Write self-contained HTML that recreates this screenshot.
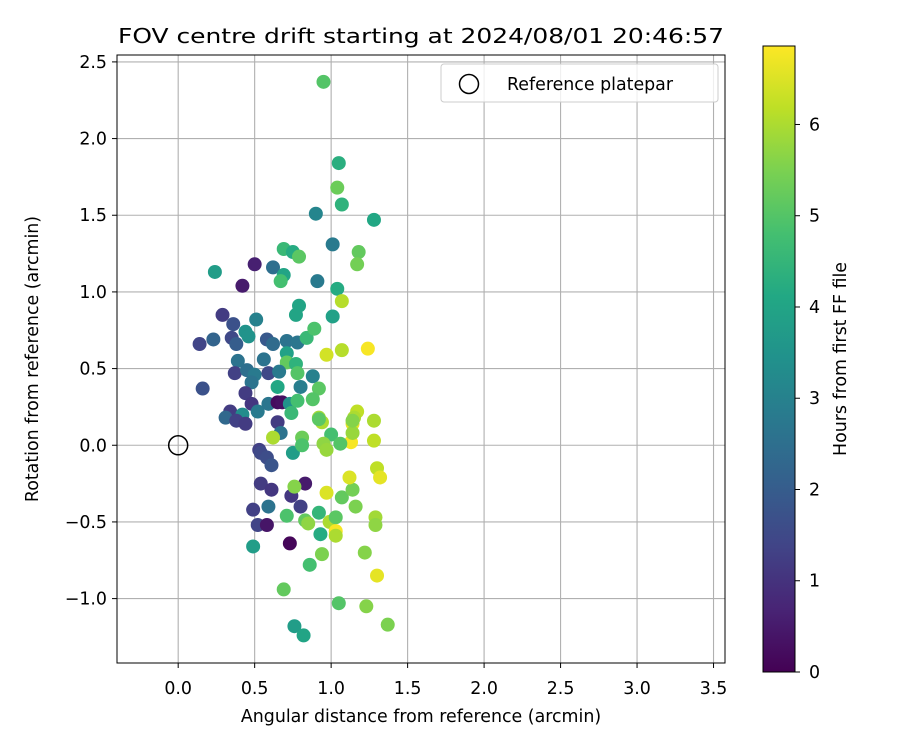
<!DOCTYPE html>
<html><head><meta charset="utf-8"><style>
body{margin:0;background:#fff}
svg text{font-family:"DejaVu Sans","Liberation Sans",sans-serif;fill:#000}
</style></head><body>
<svg id="chart" width="900" height="750" xmlns="http://www.w3.org/2000/svg">
<rect width="900" height="750" fill="#fff"/>
<text x="421" y="43" font-size="20.8" text-anchor="middle" textLength="606" lengthAdjust="spacingAndGlyphs">FOV centre drift starting at 2024/08/01 20:46:57</text>
<g id="grid"></g>
<g id="points"></g>
<g id="axes"></g>
<text x="421" y="722" font-size="17.4" text-anchor="middle">Angular distance from reference (arcmin)</text>
<text transform="translate(38,359) rotate(-90)" font-size="17.4" text-anchor="middle">Rotation from reference (arcmin)</text>
<g>
<rect x="441" y="64" width="277" height="38" rx="3" fill="#fff" fill-opacity="0.8" stroke="#ccc"/>
<circle cx="469" cy="84" r="9.5" fill="none" stroke="#000" stroke-width="1.5"/>
<text x="507" y="90" font-size="17.4">Reference platepar</text>
</g>
<defs><linearGradient id="vir" x1="0" y1="1" x2="0" y2="0">
<stop offset="0" stop-color="#440154"/><stop offset="0.1" stop-color="#482475"/><stop offset="0.2" stop-color="#414487"/><stop offset="0.3" stop-color="#355f8d"/><stop offset="0.4" stop-color="#2a788e"/><stop offset="0.5" stop-color="#21918c"/><stop offset="0.6" stop-color="#22a884"/><stop offset="0.7" stop-color="#44bf70"/><stop offset="0.8" stop-color="#7ad151"/><stop offset="0.9" stop-color="#bddf26"/><stop offset="1" stop-color="#fde725"/>
</linearGradient></defs>
<rect x="763" y="46" width="32" height="626" fill="url(#vir)" stroke="#000" stroke-width="1"/>
<g id="cbar"></g>
<text transform="translate(846,359) rotate(-90)" font-size="17.4" text-anchor="middle">Hours from first FF file</text>
</svg>
<script>
const xs=[0.95,1.05,1.04,1.07,1.28,0.90,1.01,1.18,1.17,0.69,0.75,0.79,0.50,0.62,0.69,0.67,0.91,1.04,0.24,0.42,
1.07,0.79,0.77,1.01,0.29,0.36,0.51,0.44,0.46,0.14,0.23,0.35,0.38,0.58,0.62,0.71,0.78,0.84,0.89,0.71,0.71,0.77,0.97,1.07,1.24,0.39,0.56,0.37,0.45,0.50,0.48,0.59,0.66,0.78,0.88,0.65,0.80,0.92,0.88,0.16,0.44,0.48,0.52,0.59,0.65,0.68,0.73,0.78,0.74,0.34,0.31,0.42,0.38,0.44,0.65,0.67,0.62,0.92,0.94,1.17,1.15,1.14,1.28,0.81,1.00,0.95,1.13,1.28,0.53,
0.52,0.58,0.59,0.49,0.49,0.73,0.54,0.61,0.74,0.83,0.76,0.80,0.71,0.83,0.85,0.92,0.93,0.99,1.03,1.03,1.03,0.94,0.86,0.97,1.07,1.14,1.12,1.16,1.29,1.29,1.22,1.30,1.30,1.32,0.69,1.05,1.23,1.37,0.76,0.82,
0.54,0.58,0.61,0.75,0.81,0.97,1.06,1.14,0.92,1.14];
const ys=[2.37,1.84,1.68,1.57,1.47,1.51,1.31,1.26,1.18,1.28,1.26,1.23,1.18,1.16,1.11,1.07,1.07,1.02,1.13,1.04,
0.94,0.91,0.85,0.84,0.85,0.79,0.82,0.74,0.71,0.66,0.69,0.70,0.66,0.69,0.66,0.68,0.67,0.70,0.76,0.60,0.54,0.53,0.59,0.62,0.63,0.55,0.56,0.47,0.49,0.46,0.41,0.47,0.48,0.47,0.45,0.38,0.38,0.37,0.30,0.37,0.34,0.27,0.22,0.27,0.28,0.28,0.27,0.29,0.21,0.22,0.18,0.20,0.16,0.14,0.15,0.08,0.05,0.18,0.15,0.22,0.18,0.14,0.16,0.05,0.07,0.01,0.02,0.03,-0.03,
-0.52,-0.52,-0.40,-0.42,-0.66,-0.64,-0.25,-0.29,-0.33,-0.25,-0.27,-0.40,-0.46,-0.49,-0.51,-0.44,-0.58,-0.50,-0.47,-0.56,-0.59,-0.71,-0.78,-0.31,-0.34,-0.29,-0.21,-0.40,-0.47,-0.52,-0.70,-0.85,-0.15,-0.21,-0.94,-1.03,-1.05,-1.17,-1.18,-1.24,
-0.05,-0.08,-0.13,-0.05,0.00,-0.03,0.01,0.08,0.17,0.16];
const hours=[5.0,4.3,5.3,4.4,4.1,3.1,2.8,5.2,5.4,4.6,4.2,5.1,0.6,2.5,4.0,4.8,2.8,4.2,3.8,0.5,
6.1,4.0,4.0,3.9,1.2,1.7,3.0,3.5,3.5,1.4,2.2,1.5,2.0,1.9,2.4,2.6,2.7,4.6,4.9,3.9,5.2,4.4,6.4,6.1,6.8,2.6,2.6,1.3,2.5,2.8,2.6,1.5,2.8,5.0,3.0,4.1,2.9,5.1,5.0,1.7,1.2,1.1,2.8,2.7,0.2,0.3,3.5,4.8,4.6,1.2,2.3,3.3,1.3,1.2,1.2,2.6,6.0,5.9,6.0,6.2,6.0,6.6,6.0,5.3,4.8,5.7,6.8,6.2,1.3,
1.4,0.4,2.6,1.3,3.8,0.1,1.2,1.1,1.1,0.5,5.6,1.3,4.9,5.2,5.7,4.5,4.2,6.0,5.1,6.8,6.0,5.5,4.8,6.5,5.2,5.4,6.5,5.5,5.9,5.7,5.6,6.6,6.2,6.6,5.2,5.0,5.6,5.5,3.8,4.0,
1.5,1.6,1.8,3.8,4.9,5.8,5.0,5.8,5.1,5.6];
const xTicks=["0.0","0.5","1.0","1.5","2.0","2.5","3.0","3.5"];
const yTicks=["−1.0","−0.5","0.0","0.5","1.0","1.5","2.0","2.5"];
const yTickVals=[-1,-0.5,0,0.5,1,1.5,2,2.5];
const cTicks=[0,1,2,3,4,5,6];
const refX=[0], refY=[0];

const L=117,R=725,T=55,B=663, XMIN=-0.4,XMAX=3.575, YMIN=-1.42,YMAX=2.545, CMAX=6.86;
const sx=v=>L+(v-XMIN)/(XMAX-XMIN)*(R-L);
const sy=v=>B-(v-YMIN)/(YMAX-YMIN)*(B-T);
const cy=v=>672-v/CMAX*626;
const NS="http://www.w3.org/2000/svg";
function mk(p,tag,a){const e=document.createElementNS(NS,tag);for(const k in a)e.setAttribute(k,a[k]);p.appendChild(e);return e;}
const stops=[[68,1,84],[72,36,117],[65,68,135],[53,95,141],[42,120,142],[33,145,140],[34,168,132],[68,191,112],[122,209,81],[189,223,38],[253,231,37]];
function vir(t){t=Math.max(0,Math.min(1,t))*10;const i=Math.min(9,Math.floor(t)),f=t-i;const a=stops[i],b=stops[i+1];
return `rgb(${a.map((c,k)=>Math.round(c+(b[k]-c)*f)).join(',')})`;}
const grid=document.getElementById('grid'),axes=document.getElementById('axes'),pts=document.getElementById('points'),cb=document.getElementById('cbar');
xTicks.forEach(s=>{const v=parseFloat(s),x=sx(v);
const g=mk(grid,'line',{x1:x,x2:x,y1:T,y2:B,stroke:'#b0b0b0','stroke-width':1.1});


mk(axes,'line',{x1:x,x2:x,y1:B,y2:B+5,stroke:'#000'});
const t=mk(axes,'text',{x:x,y:B+31,'font-size':17.4,'text-anchor':'middle'});t.textContent=s;

});
yTicks.forEach((s,i)=>{const y=sy(yTickVals[i]);
const g=mk(grid,'line',{x1:L,x2:R,y1:y,y2:y,stroke:'#b0b0b0','stroke-width':1.1});


mk(axes,'line',{x1:L-5,x2:L,y1:y,y2:y,stroke:'#000'});
const t=mk(axes,'text',{x:L-10,y:y+6,'font-size':17.4,'text-anchor':'end'});t.textContent=s;

});
const fr=mk(axes,'rect',{x:L,y:T,width:R-L,height:B-T,fill:'none',stroke:'#000','stroke-width':1});


xs.forEach((x,i)=>{const c=mk(pts,'circle',{cx:sx(x),cy:sy(ys[i]),r:7,fill:vir(hours[i]/CMAX)});

});
const rc=mk(pts,'circle',{cx:sx(refX[0]),cy:sy(refY[0]),r:9.5,fill:'none',stroke:'#000','stroke-width':1.5});


cTicks.forEach(v=>{const y=cy(v);mk(cb,'line',{x1:795,x2:800,y1:y,y2:y,stroke:'#000'});
const t=mk(cb,'text',{x:809,y:y+6,'font-size':17.4});t.textContent=v;

});
</script>
</body></html>
